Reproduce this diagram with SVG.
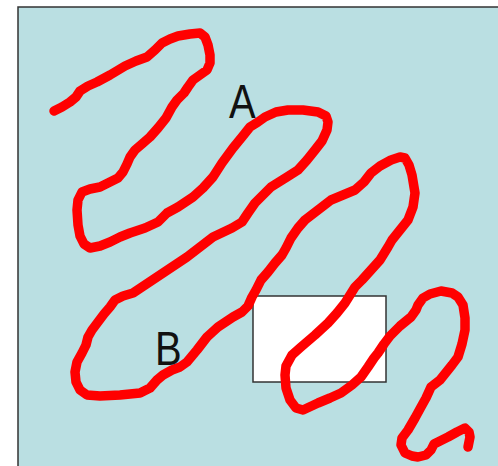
<svg xmlns="http://www.w3.org/2000/svg" width="498" height="466" viewBox="0 0 498 466">
<style>
.lbl{font-family:"Liberation Sans",Arial,sans-serif;font-size:40px;fill:#111}
.scribble{fill:none;stroke:#ff0000;stroke-width:9.5;stroke-linecap:round;stroke-linejoin:round}
</style>
<rect x="0" y="0" width="498" height="466" fill="#ffffff"/>
<g id="panel">
<rect x="18" y="7" width="490" height="470" fill="#badfe2" stroke="#333333" stroke-width="1.5"/>
</g>
<g id="box">
<rect x="253" y="296" width="133" height="86" fill="#ffffff" stroke="#333333" stroke-width="1.5"/>
</g>
<g id="connectors">
<polyline class="scribble" points="54,111 62,107 70,102 76,97 80,91 88,86 97,82 110,75 125,66 136,61 147,57 155,50 162,43 170,39 178,36 190,34 200,33 205,37 208,45 210,55 210,63 207,70 200,75 193,80 188,87 184,93 177,100 172,107 166,118 158,128 150,137 142,144 135,150 130,157 127,164 123,172 118,178 110,182 100,187 90,189 82,192 78,200 77,210 78,225 80,236 84,244 90,248 100,246 110,242 120,237 130,233 145,228 158,222 167,213 178,207 193,197 203,188 213,177 222,163 233,148 242,137 250,127 258,122 265,117 276,112 288,110 303,110 318,112 326,116 328,122 327,130 322,141 315,150 307,160 298,170 287,177 271,187 263,195 255,203 248,213 242,222 232,228 213,237 200,247 187,257 172,267 157,277 145,285 133,293 123,296 115,300 110,307 104,314 98,322 92,330 88,337 86,345 82,353 77,362 75,372 76,382 80,390 87,395 100,396 120,395 140,393 150,388 157,380 163,375 172,370 180,367 187,362 197,350 207,337 218,327 233,317 242,312 248,306 252,297 256,290 261,280 268,272 275,263 282,255 286,248 291,238 298,228 305,220 318,210 331,200 343,195 355,190 364,182 371,173 380,166 391,160 400,157 405,158 409,165 412,175 415,193 413,207 408,220 400,230 392,240 388,247 380,260 371,270 362,280 355,287 350,295 345,303 337,313 328,323 315,335 301,347 292,355 286,366 285,375 286,388 290,400 296,408 303,410 318,403 330,398 341,393 352,385 361,377 368,367 374,358 378,353 384,344 390,336 400,326 411,317 416,310 418,305 423,298 430,294 441,291 452,293 458,297 463,305 465,318 465,330 462,344 458,357 452,365 448,370 440,380 431,387 426,398 421,407 415,418 408,430 402,438 401,445 405,453 412,456 418,457 426,455 431,450 434,444 440,441 448,437 457,432 465,428 469,432 470,437 468,447"/>
</g>
<g id="label-A">
<text class="lbl" transform="translate(229,118) scale(1,1.22)">A</text>
</g>
<g id="label-B">
<text class="lbl" transform="translate(155,365) scale(1,1.22)">B</text>
</g>
</svg>
